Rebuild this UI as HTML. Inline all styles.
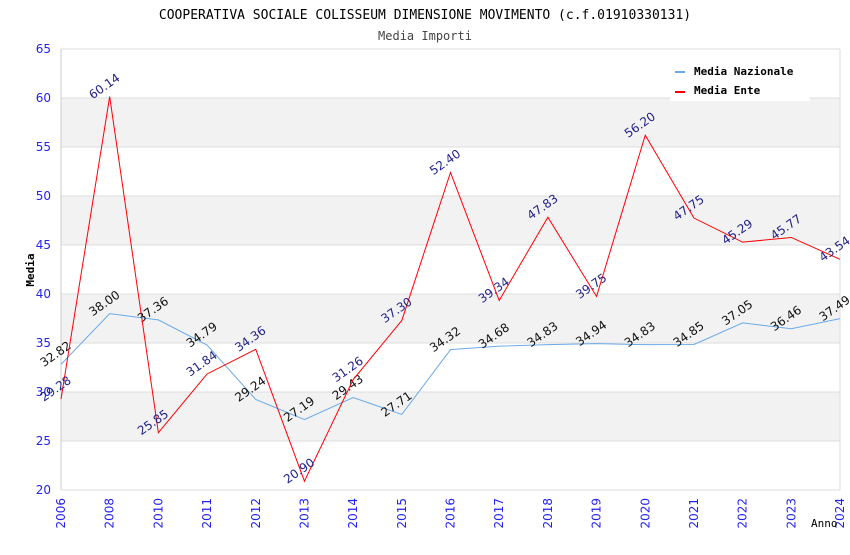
<!DOCTYPE html>
<html><head><meta charset="utf-8"><style>
body{margin:0;background:#fff}
svg text{font-family:"DejaVu Sans","Liberation Sans",sans-serif}
</style></head><body>
<svg id="c" width="850" height="550" xmlns="http://www.w3.org/2000/svg">
<text x="425" y="19" text-anchor="middle" font-size="13" style="font-family:'DejaVu Sans Mono',monospace">COOPERATIVA SOCIALE COLISSEUM DIMENSIONE MOVIMENTO (c.f.01910330131)</text>
<text x="425" y="40" text-anchor="middle" font-size="12" fill="#444" style="font-family:'DejaVu Sans Mono',monospace">Media Importi</text>
<g id="grid"></g>
<g id="marks"></g>
<text x="34" y="270" transform="rotate(-90 34 270)" text-anchor="middle" font-size="11" font-weight="bold" style="font-family:'DejaVu Sans Mono',monospace">Media</text>
<text x="811" y="527" font-size="11" style="font-family:'DejaVu Sans Mono',monospace">Anno</text>
<g>
<rect x="670" y="57" width="140" height="44" fill="#fff"/>
<rect x="675" y="71" width="10" height="2" fill="#6aaaea"/>
<text x="694" y="75" font-size="11" font-weight="bold" style="font-family:'DejaVu Sans Mono',monospace">Media Nazionale</text>
<rect x="675" y="91" width="10" height="2" fill="#f00"/>
<text x="694" y="94" font-size="11" font-weight="bold" style="font-family:'DejaVu Sans Mono',monospace">Media Ente</text>
</g>
</svg>
<script>
const categories=["2006","2008","2010","2011","2012","2013","2014","2015","2016","2017","2018","2019","2020","2021","2022","2023","2024"];
const nazionale=[32.82,38.00,37.36,34.79,29.24,27.19,29.43,27.71,34.32,34.68,34.83,34.94,34.83,34.85,37.05,36.46,37.49];
const ente=[29.28,60.14,25.85,31.84,34.36,20.90,31.26,37.30,52.40,39.34,47.83,39.75,56.20,47.75,45.29,45.77,43.54];
const yTicks=[20,25,30,35,40,45,50,55,60,65];
const NS="http://www.w3.org/2000/svg";
const L=61,R=840,T=49,B=490,yMin=20,yMax=65;
const xs=i=>L+i*(R-L)/(categories.length-1);
const ys=v=>B-(v-yMin)/(yMax-yMin)*(B-T);
function mk(t,a,p){const e=document.createElementNS(NS,t);for(const k in a)e.setAttribute(k,a[k]);p.appendChild(e);return e;}
const g=document.getElementById('grid'),m=document.getElementById('marks');
for(let i=0;i<yTicks.length-1;i++){
 if(i%2===1){const r=mk('rect',{x:L,y:ys(yTicks[i+1]),width:R-L,height:ys(yTicks[i])-ys(yTicks[i+1]),fill:'#f2f2f2'},g);
 
 }
}
yTicks.forEach(v=>{
 const l=mk('line',{x1:L,x2:R,y1:ys(v),y2:ys(v),stroke:'#ddd'},g);
 
 
 const t=mk('text',{x:L-10,y:ys(v)+4,'text-anchor':'end','font-size':12,fill:'#2222ee'},g);t.textContent=v;
 
 
});
mk('line',{x1:L,x2:L,y1:T,y2:B,stroke:'#ccc'},g);
mk('line',{x1:R,x2:R,y1:T,y2:B,stroke:'#ddd'},g);
categories.forEach((c,i)=>{
 const x=xs(i),y=B+8;
 const t=mk('text',{x:x+4,y:y,transform:`rotate(-90 ${x+4} ${y})`,'text-anchor':'end','font-size':12,fill:'#2222ee'},g);t.textContent=c;
 
 
});
function series(d,color,lab,name){
 const p=mk('polyline',{points:d.map((v,i)=>xs(i)+','+ys(v)).join(' '),fill:'none',stroke:color,'stroke-width':1},m);
 
 
 d.forEach((v,i)=>{
  const x=xs(i)-3,y=ys(v)-7;
  const t=mk('text',{x:x,y:y,transform:`rotate(-35 ${x} ${y})`,'text-anchor':'middle','font-size':12,fill:lab},m);
  t.textContent=v.toFixed(2);
  
  
 });
}
series(nazionale,'#6aaaea','#111','nazionale');
series(ente,'#ff0000','#22228a','ente');
</script>
</body></html>
